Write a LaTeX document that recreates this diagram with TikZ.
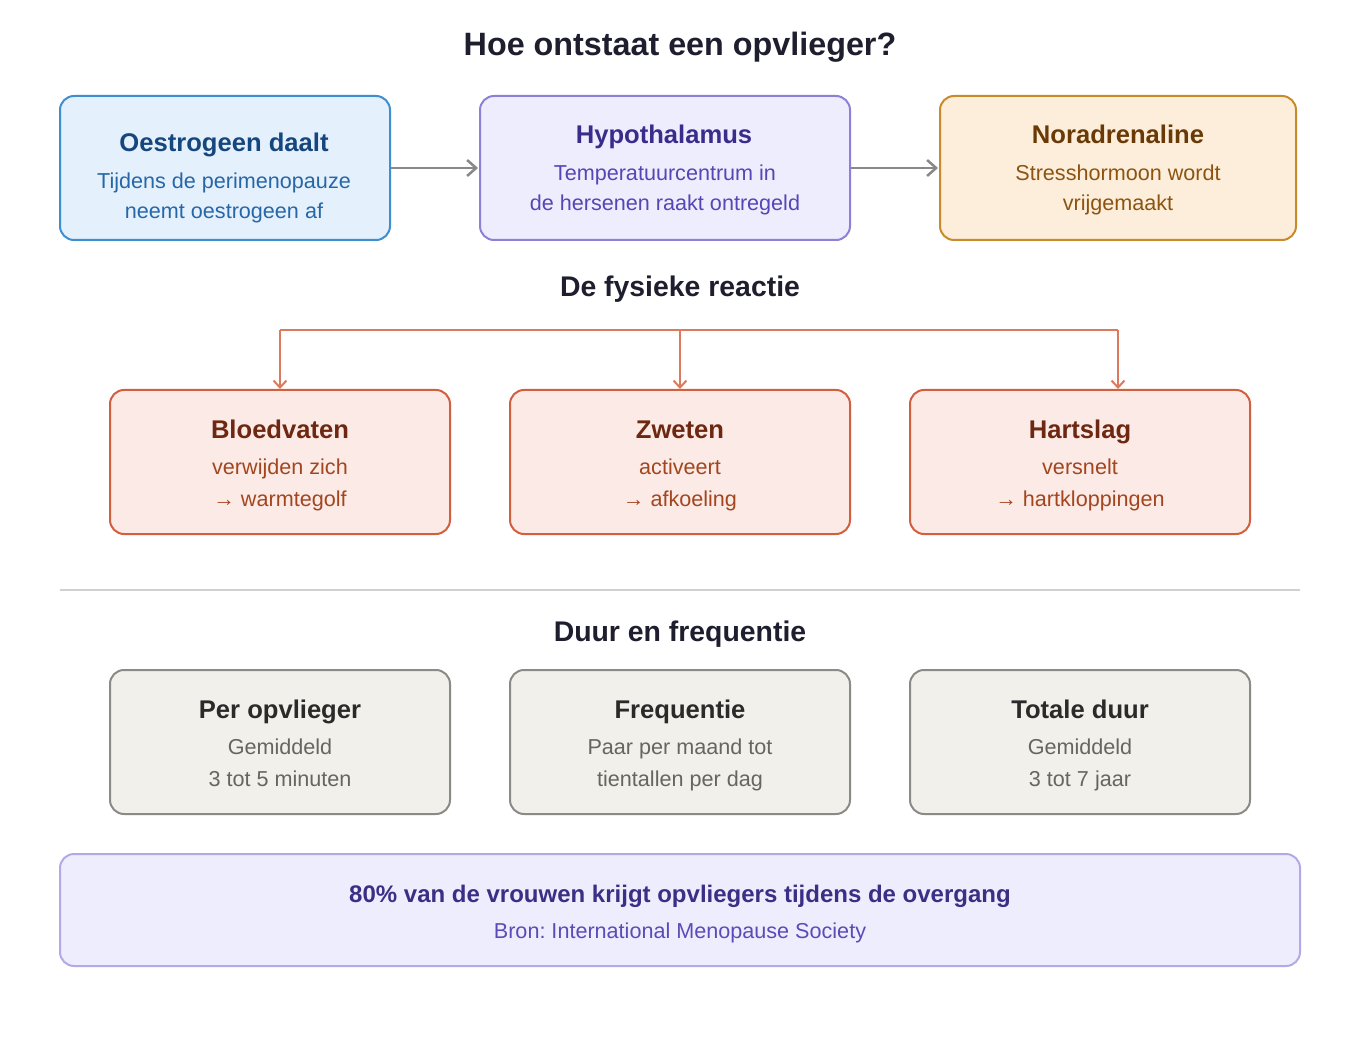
\documentclass[tikz,border=0pt]{standalone}
\usepackage{fontspec}
\setmainfont{Liberation Sans}
\usetikzlibrary{arrows.meta}
\frenchspacing
\definecolor{ttl}{HTML}{1E1E2E}
\definecolor{bFill}{HTML}{E4F0FB}\definecolor{bLine}{HTML}{3D8FD1}\definecolor{bT}{HTML}{16467E}\definecolor{bS}{HTML}{2767A8}
\definecolor{pFill}{HTML}{EEEDFD}\definecolor{pLine}{HTML}{8E80D6}\definecolor{pT}{HTML}{3B2C8C}\definecolor{pS}{HTML}{5745B5}
\definecolor{oFill}{HTML}{FDEEDB}\definecolor{oLine}{HTML}{C98A2A}\definecolor{oT}{HTML}{6A3A06}\definecolor{oS}{HTML}{8C5410}
\definecolor{rFill}{HTML}{FBEAE6}\definecolor{rLine}{HTML}{D2603E}\definecolor{rT}{HTML}{6E2812}\definecolor{rS}{HTML}{A3461F}\definecolor{rArr}{HTML}{DD7A5E}
\definecolor{gFill}{HTML}{F1F0EB}\definecolor{gLine}{HTML}{8A8A86}\definecolor{gT}{HTML}{2A2A2A}\definecolor{gS}{HTML}{666660}
\definecolor{fLine}{HTML}{B3A9E6}\definecolor{fT}{HTML}{3B2E85}\definecolor{fS}{HTML}{5A4CB8}
\definecolor{sep}{HTML}{D0D0D0}\definecolor{gArr}{HTML}{888888}
\begin{document}
\begin{tikzpicture}[x=1pt,y=-1pt,
  card/.style={draw,line width=2pt,rounded corners=14pt,inner sep=0pt,anchor=center},
  maintitle/.style={anchor=base,inner sep=0pt,font=\fontsize{32.3}{38}\selectfont\bfseries,text=ttl},
  section/.style={anchor=base,inner sep=0pt,font=\fontsize{28.4}{34}\selectfont\bfseries,text=ttl},
  ctitle/.style={anchor=base,inner sep=0pt,font=\fontsize{25.6}{30}\selectfont\bfseries},
  csub/.style={anchor=base,inner sep=0pt,font=\fontsize{21.6}{26}\selectfont},
  grayarrow/.style={draw=gArr,line width=2.5pt,-{Straight Barb[length=9pt,width=16pt,line width=2.5pt]}},
  forkline/.style={draw=rArr,line width=2pt},
  forkarrow/.style={draw=rArr,line width=2pt,-{Straight Barb[length=7pt,width=13pt,line width=2pt]}}
]
\useasboundingbox[fill=white] (0,0) rectangle (1360,1040);

\node[maintitle] (title) at (680,56) {Hoe ontstaat een opvlieger?};

% top row
\node[card,fill=bFill,draw=bLine,minimum width=330pt,minimum height=144pt] (b1) at (225,168) {};
\node[card,fill=pFill,draw=pLine,minimum width=370pt,minimum height=144pt] (b2) at (665,168) {};
\node[card,fill=oFill,draw=oLine,minimum width=356pt,minimum height=144pt] (b3) at (1118,168) {};

\node[ctitle,text=bT] (b1t) at (224,152) {Oestrogeen daalt};
\node[csub,text=bS] (b1s1) at (224,188.6) {Tijdens de perimenopauze};
\node[csub,text=bS] (b1s2) at (224,218.6) {neemt oestrogeen af};

\node[ctitle,text=pT] (b2t) at (664,144) {Hypothalamus};
\node[csub,text=pS] (b2s1) at (665,180.6) {Temperatuurcentrum in};
\node[csub,text=pS] (b2s2) at (665,210.6) {de hersenen raakt ontregeld};

\node[ctitle,text=oT] (b3t) at (1118,144) {Noradrenaline};
\node[csub,text=oS] (b3s1) at (1118,180.6) {Stresshormoon wordt};
\node[csub,text=oS] (b3s2) at (1118,210.6) {vrijgemaakt};

\draw[grayarrow] (b1.east) -- ([xshift=-1pt]b2.west);
\draw[grayarrow] (b2.east) -- ([xshift=-1pt]b3.west);

% physical reaction
\node[section] (sec1) at (680,297) {De fysieke reactie};

\node[card,fill=rFill,draw=rLine,minimum width=340pt,minimum height=144pt] (r1) at (280,462) {};
\node[card,fill=rFill,draw=rLine,minimum width=340pt,minimum height=144pt] (r2) at (680,462) {};
\node[card,fill=rFill,draw=rLine,minimum width=340pt,minimum height=144pt] (r3) at (1080,462) {};

\node[ctitle,text=rT] (r1t) at (280,438) {Bloedvaten};
\node[csub,text=rS] (r1s1) at (280,474.6) {verwijden zich};
\node[csub,text=rS] (r1s2) at (280,506.6) {→ warmtegolf};
\node[ctitle,text=rT] (r2t) at (680,438) {Zweten};
\node[csub,text=rS] (r2s1) at (680,474.6) {activeert};
\node[csub,text=rS] (r2s2) at (680,506.6) {→ afkoeling};
\node[ctitle,text=rT] (r3t) at (1080,438) {Hartslag};
\node[csub,text=rS] (r3s1) at (1080,474.6) {versnelt};
\node[csub,text=rS] (r3s2) at (1080,506.6) {→ hartkloppingen};

\coordinate (f1) at (280,330);
\coordinate (f2) at (680,330);
\coordinate (f3) at (1118,330);
\draw[forkline] (f1) -- (f3);
\draw[forkarrow] (f1) -- (r1.north);
\draw[forkarrow] (f2) -- (r2.north);
\draw[forkarrow] (f3) -- (f3 |- r3.north);

% separator
\coordinate (sepA) at (60,590);
\coordinate (sepB) at (1300,590);
\draw[sep,line width=1.5pt] (sepA) -- (sepB);

% duration
\node[section] (sec2) at (680,641) {Duur en frequentie};

\node[card,fill=gFill,draw=gLine,minimum width=340pt,minimum height=144pt] (g1) at (280,742) {};
\node[card,fill=gFill,draw=gLine,minimum width=340pt,minimum height=144pt] (g2) at (680,742) {};
\node[card,fill=gFill,draw=gLine,minimum width=340pt,minimum height=144pt] (g3) at (1080,742) {};

\node[ctitle,text=gT] (g1t) at (280,718) {Per opvlieger};
\node[csub,text=gS] (g1s1) at (280,754.6) {Gemiddeld};
\node[csub,text=gS] (g1s2) at (280,786.6) {3 tot 5 minuten};
\node[ctitle,text=gT] (g2t) at (680,718) {Frequentie};
\node[csub,text=gS] (g2s1) at (680,754.6) {Paar per maand tot};
\node[csub,text=gS] (g2s2) at (680,786.6) {tientallen per dag};
\node[ctitle,text=gT] (g3t) at (1080,718) {Totale duur};
\node[csub,text=gS] (g3s1) at (1080,754.6) {Gemiddeld};
\node[csub,text=gS] (g3s2) at (1080,786.6) {3 tot 7 jaar};

% footer
\node[card,fill=pFill,draw=fLine,minimum width=1240pt,minimum height=112pt] (foot) at (680,910) {};
\node[anchor=base,inner sep=0pt,font=\fontsize{24}{29}\selectfont\bfseries,text=fT] (footT) at (680,902.4) {80\% van de vrouwen krijgt opvliegers tijdens de overgang};
\node[csub,text=fS] (footS) at (680,938.6) {Bron: International Menopause Society};
\end{tikzpicture}
\end{document}
